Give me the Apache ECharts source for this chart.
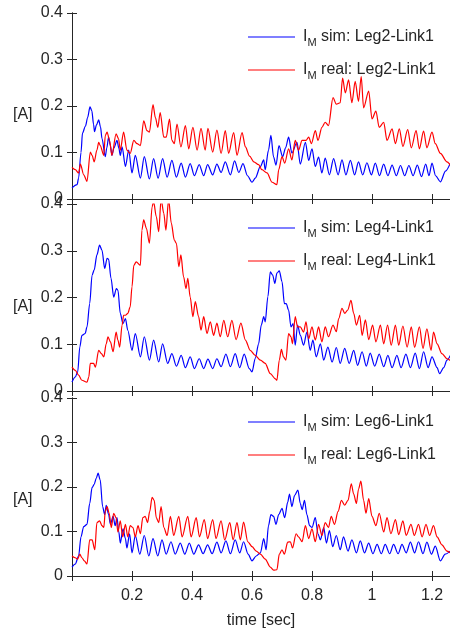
<!DOCTYPE html>
<html><head><meta charset="utf-8">
<script src="https://cdn.jsdelivr.net/npm/echarts@6/dist/echarts.min.js"></script>
<style>html,body{margin:0;padding:0;background:#fff}#c{width:450px;height:630px}</style>
</head><body><div id="c"></div>
<script>
// ---- data: [time (sec), current (A)] ----
const legNames = ['Leg2-Link1', 'Leg4-Link1', 'Leg6-Link1'];
const yTickLabels = ['0', '0.1', '0.2', '0.3', '0.4'];
const xTickLabels = ['0.2', '0.4', '0.6', '0.8', '1', '1.2'];

const leg2Sim = [[0,0.024],[0.017,0.031],[0.022,0.045],[0.03,0.1],[0.035,0.142],[0.045,0.157],[0.052,0.175],[0.06,0.198],[0.066,0.19],[0.072,0.16],[0.075,0.145],[0.082,0.16],[0.089,0.17],[0.095,0.155],[0.1,0.13],[0.111,0.091],[0.116,0.11],[0.122,0.133],[0.128,0.115],[0.133,0.094],[0.14,0.11],[0.15,0.126],[0.156,0.11],[0.161,0.094],[0.167,0.112],[0.178,0.07],[0.189,0.105],[0.2,0.056],[0.211,0.094],[0.228,0.045],[0.241,0.091],[0.258,0.043],[0.272,0.087],[0.287,0.045],[0.302,0.087],[0.317,0.047],[0.333,0.083],[0.348,0.047],[0.364,0.077],[0.378,0.047],[0.394,0.076],[0.408,0.05],[0.424,0.074],[0.439,0.05],[0.452,0.074],[0.469,0.052],[0.483,0.075],[0.497,0.057],[0.511,0.08],[0.528,0.052],[0.542,0.082],[0.556,0.057],[0.57,0.076],[0.585,0.05],[0.6,0.036],[0.611,0.045],[0.628,0.07],[0.639,0.084],[0.644,0.063],[0.655,0.105],[0.663,0.137],[0.672,0.09],[0.68,0.073],[0.69,0.115],[0.702,0.091],[0.712,0.11],[0.722,0.133],[0.733,0.099],[0.75,0.122],[0.761,0.075],[0.778,0.122],[0.789,0.083],[0.8,0.108],[0.811,0.07],[0.822,0.09],[0.833,0.056],[0.844,0.088],[0.858,0.052],[0.872,0.087],[0.887,0.052],[0.9,0.084],[0.913,0.052],[0.928,0.083],[0.942,0.052],[0.955,0.08],[0.969,0.052],[0.983,0.078],[0.998,0.052],[1.011,0.077],[1.025,0.05],[1.039,0.075],[1.053,0.05],[1.067,0.073],[1.081,0.05],[1.095,0.072],[1.109,0.05],[1.123,0.072],[1.137,0.05],[1.151,0.073],[1.165,0.048],[1.179,0.075],[1.19,0.05],[1.2,0.077],[1.212,0.05],[1.228,0.037],[1.245,0.06],[1.261,0.077]];

const leg2Real = [[0,0.068],[0.011,0.063],[0.022,0.056],[0.028,0.075],[0.039,0.052],[0.05,0.038],[0.061,0.101],[0.067,0.094],[0.074,0.08],[0.083,0.105],[0.089,0.122],[0.094,0.115],[0.106,0.094],[0.111,0.137],[0.117,0.144],[0.125,0.126],[0.133,0.094],[0.147,0.14],[0.155,0.13],[0.161,0.105],[0.172,0.144],[0.183,0.105],[0.194,0.098],[0.206,0.126],[0.217,0.119],[0.228,0.115],[0.239,0.168],[0.25,0.147],[0.258,0.144],[0.27,0.203],[0.278,0.175],[0.286,0.154],[0.294,0.186],[0.306,0.133],[0.314,0.133],[0.325,0.172],[0.333,0.126],[0.341,0.119],[0.35,0.161],[0.363,0.112],[0.378,0.158],[0.389,0.108],[0.403,0.154],[0.417,0.105],[0.43,0.152],[0.444,0.105],[0.453,0.152],[0.469,0.101],[0.483,0.148],[0.497,0.098],[0.511,0.147],[0.522,0.098],[0.539,0.143],[0.55,0.094],[0.567,0.143],[0.578,0.112],[0.592,0.092],[0.606,0.08],[0.622,0.074],[0.633,0.063],[0.65,0.056],[0.667,0.036],[0.683,0.031],[0.689,0.063],[0.7,0.091],[0.709,0.077],[0.722,0.108],[0.733,0.084],[0.744,0.126],[0.755,0.105],[0.767,0.126],[0.78,0.126],[0.789,0.133],[0.798,0.119],[0.811,0.147],[0.82,0.126],[0.833,0.154],[0.844,0.165],[0.855,0.158],[0.87,0.218],[0.881,0.204],[0.894,0.207],[0.902,0.26],[0.911,0.228],[0.922,0.256],[0.933,0.207],[0.944,0.253],[0.955,0.21],[0.964,0.263],[0.972,0.196],[0.989,0.232],[1.0,0.172],[1.013,0.189],[1.024,0.154],[1.039,0.165],[1.05,0.126],[1.067,0.151],[1.078,0.119],[1.091,0.151],[1.103,0.113],[1.119,0.149],[1.131,0.11],[1.147,0.147],[1.158,0.108],[1.172,0.146],[1.183,0.11],[1.2,0.144],[1.211,0.119],[1.228,0.098],[1.25,0.08],[1.261,0.073]];

const leg4Sim = [[0,0.019],[0.011,0.03],[0.019,0.041],[0.026,0.094],[0.033,0.119],[0.044,0.123],[0.05,0.137],[0.059,0.187],[0.067,0.248],[0.074,0.259],[0.083,0.291],[0.092,0.312],[0.1,0.301],[0.109,0.262],[0.117,0.284],[0.122,0.282],[0.13,0.241],[0.139,0.201],[0.148,0.219],[0.153,0.216],[0.161,0.166],[0.17,0.144],[0.178,0.155],[0.186,0.13],[0.2,0.087],[0.211,0.123],[0.228,0.073],[0.241,0.116],[0.258,0.066],[0.272,0.109],[0.289,0.062],[0.302,0.101],[0.319,0.059],[0.333,0.08],[0.348,0.053],[0.364,0.076],[0.378,0.05],[0.394,0.073],[0.408,0.048],[0.424,0.069],[0.439,0.048],[0.453,0.068],[0.469,0.048],[0.483,0.069],[0.497,0.052],[0.513,0.079],[0.528,0.052],[0.544,0.08],[0.559,0.05],[0.574,0.079],[0.591,0.048],[0.6,0.041],[0.611,0.07],[0.622,0.101],[0.631,0.141],[0.639,0.159],[0.644,0.148],[0.653,0.202],[0.661,0.255],[0.669,0.248],[0.676,0.23],[0.683,0.252],[0.691,0.257],[0.7,0.234],[0.708,0.187],[0.714,0.187],[0.722,0.173],[0.73,0.137],[0.737,0.144],[0.744,0.098],[0.752,0.141],[0.761,0.119],[0.772,0.098],[0.783,0.126],[0.794,0.087],[0.803,0.109],[0.814,0.073],[0.828,0.101],[0.839,0.066],[0.853,0.094],[0.867,0.062],[0.881,0.093],[0.894,0.059],[0.909,0.091],[0.924,0.059],[0.939,0.087],[0.952,0.055],[0.967,0.084],[0.981,0.053],[0.994,0.081],[1.009,0.053],[1.024,0.079],[1.039,0.052],[1.053,0.076],[1.067,0.05],[1.083,0.076],[1.097,0.05],[1.113,0.079],[1.128,0.05],[1.144,0.081],[1.158,0.048],[1.172,0.084],[1.187,0.05],[1.2,0.073],[1.217,0.05],[1.225,0.037],[1.239,0.05],[1.25,0.066],[1.261,0.076]];

const leg4Real = [[0,0.051],[0.011,0.044],[0.022,0.034],[0.033,0.023],[0.05,0.019],[0.056,0.03],[0.061,0.059],[0.072,0.059],[0.078,0.051],[0.089,0.087],[0.098,0.08],[0.106,0.073],[0.114,0.101],[0.12,0.116],[0.128,0.105],[0.137,0.084],[0.147,0.126],[0.153,0.109],[0.159,0.094],[0.167,0.141],[0.172,0.162],[0.178,0.162],[0.186,0.166],[0.194,0.18],[0.2,0.223],[0.206,0.269],[0.214,0.276],[0.228,0.269],[0.233,0.344],[0.239,0.366],[0.248,0.348],[0.258,0.316],[0.267,0.394],[0.272,0.405],[0.281,0.373],[0.289,0.341],[0.297,0.41],[0.306,0.38],[0.313,0.344],[0.322,0.41],[0.331,0.359],[0.341,0.323],[0.348,0.316],[0.356,0.266],[0.363,0.291],[0.372,0.244],[0.38,0.219],[0.386,0.241],[0.394,0.201],[0.403,0.159],[0.411,0.191],[0.422,0.159],[0.43,0.13],[0.439,0.159],[0.45,0.123],[0.461,0.148],[0.472,0.119],[0.483,0.145],[0.494,0.116],[0.506,0.151],[0.519,0.116],[0.533,0.151],[0.547,0.11],[0.563,0.145],[0.578,0.109],[0.594,0.087],[0.611,0.076],[0.628,0.066],[0.644,0.059],[0.661,0.037],[0.678,0.026],[0.683,0.023],[0.691,0.066],[0.698,0.089],[0.705,0.073],[0.713,0.066],[0.722,0.123],[0.73,0.116],[0.735,0.101],[0.744,0.159],[0.752,0.137],[0.761,0.137],[0.772,0.126],[0.78,0.148],[0.789,0.112],[0.8,0.137],[0.811,0.109],[0.822,0.137],[0.833,0.105],[0.844,0.137],[0.855,0.116],[0.87,0.141],[0.881,0.127],[0.889,0.155],[0.9,0.177],[0.909,0.166],[0.919,0.173],[0.93,0.194],[0.939,0.166],[0.948,0.141],[0.959,0.162],[0.967,0.119],[0.978,0.152],[0.989,0.11],[1.002,0.141],[1.013,0.105],[1.028,0.141],[1.039,0.101],[1.052,0.141],[1.064,0.098],[1.078,0.141],[1.089,0.098],[1.103,0.139],[1.117,0.094],[1.131,0.137],[1.142,0.093],[1.158,0.137],[1.17,0.091],[1.183,0.133],[1.197,0.087],[1.205,0.126],[1.217,0.101],[1.233,0.08],[1.25,0.069],[1.261,0.065]];

const leg6Sim = [[0,0.02],[0.011,0.027],[0.022,0.045],[0.03,0.088],[0.039,0.111],[0.05,0.116],[0.059,0.163],[0.067,0.199],[0.074,0.206],[0.081,0.22],[0.087,0.231],[0.094,0.216],[0.102,0.156],[0.109,0.138],[0.114,0.159],[0.122,0.138],[0.128,0.116],[0.137,0.134],[0.144,0.113],[0.15,0.131],[0.156,0.099],[0.161,0.074],[0.17,0.106],[0.178,0.084],[0.183,0.063],[0.192,0.095],[0.2,0.052],[0.211,0.091],[0.226,0.049],[0.241,0.091],[0.256,0.045],[0.27,0.084],[0.286,0.045],[0.3,0.081],[0.314,0.049],[0.33,0.077],[0.344,0.049],[0.361,0.074],[0.376,0.049],[0.391,0.074],[0.406,0.049],[0.422,0.07],[0.437,0.05],[0.452,0.07],[0.467,0.05],[0.483,0.076],[0.497,0.052],[0.513,0.079],[0.528,0.05],[0.544,0.081],[0.559,0.052],[0.572,0.077],[0.587,0.049],[0.6,0.034],[0.614,0.045],[0.628,0.052],[0.639,0.084],[0.647,0.059],[0.655,0.113],[0.663,0.138],[0.672,0.134],[0.68,0.116],[0.689,0.138],[0.7,0.152],[0.709,0.131],[0.719,0.166],[0.725,0.184],[0.733,0.156],[0.742,0.181],[0.753,0.193],[0.761,0.163],[0.767,0.149],[0.775,0.17],[0.783,0.138],[0.792,0.113],[0.8,0.109],[0.811,0.131],[0.82,0.095],[0.828,0.081],[0.839,0.109],[0.848,0.074],[0.858,0.102],[0.869,0.066],[0.881,0.091],[0.894,0.059],[0.905,0.088],[0.92,0.056],[0.933,0.081],[0.948,0.052],[0.961,0.079],[0.975,0.052],[0.989,0.074],[1.003,0.05],[1.017,0.071],[1.031,0.05],[1.044,0.071],[1.059,0.05],[1.072,0.071],[1.087,0.05],[1.1,0.071],[1.114,0.052],[1.128,0.076],[1.142,0.052],[1.155,0.077],[1.17,0.05],[1.183,0.076],[1.198,0.049],[1.211,0.067],[1.228,0.034],[1.244,0.049],[1.261,0.056]];

const leg6Real = [[0,0.045],[0.011,0.041],[0.019,0.038],[0.026,0.049],[0.033,0.041],[0.041,0.034],[0.05,0.027],[0.059,0.081],[0.067,0.081],[0.076,0.059],[0.083,0.12],[0.092,0.124],[0.1,0.113],[0.106,0.109],[0.111,0.145],[0.117,0.156],[0.124,0.141],[0.131,0.109],[0.139,0.141],[0.147,0.131],[0.153,0.099],[0.161,0.124],[0.169,0.088],[0.178,0.116],[0.186,0.088],[0.194,0.113],[0.203,0.109],[0.211,0.088],[0.22,0.113],[0.228,0.095],[0.236,0.131],[0.244,0.134],[0.252,0.12],[0.259,0.145],[0.267,0.177],[0.274,0.17],[0.281,0.131],[0.289,0.12],[0.297,0.156],[0.306,0.109],[0.317,0.091],[0.328,0.134],[0.339,0.091],[0.356,0.134],[0.367,0.088],[0.386,0.134],[0.397,0.088],[0.414,0.131],[0.425,0.088],[0.441,0.127],[0.452,0.084],[0.469,0.127],[0.48,0.084],[0.497,0.124],[0.509,0.081],[0.526,0.12],[0.537,0.081],[0.55,0.12],[0.561,0.081],[0.572,0.121],[0.586,0.077],[0.6,0.066],[0.614,0.056],[0.628,0.049],[0.644,0.038],[0.661,0.02],[0.672,0.013],[0.683,0.014],[0.691,0.049],[0.7,0.059],[0.708,0.049],[0.719,0.076],[0.728,0.077],[0.735,0.063],[0.747,0.095],[0.755,0.088],[0.767,0.077],[0.778,0.113],[0.789,0.084],[0.8,0.106],[0.811,0.077],[0.822,0.116],[0.833,0.091],[0.844,0.12],[0.855,0.109],[0.864,0.134],[0.875,0.116],[0.887,0.145],[0.898,0.17],[0.909,0.159],[0.92,0.17],[0.931,0.207],[0.939,0.184],[0.948,0.163],[0.955,0.195],[0.963,0.213],[0.972,0.17],[0.98,0.141],[0.989,0.174],[1.0,0.134],[1.013,0.113],[1.024,0.141],[1.039,0.099],[1.05,0.131],[1.063,0.095],[1.078,0.127],[1.089,0.093],[1.103,0.124],[1.114,0.091],[1.13,0.116],[1.141,0.091],[1.155,0.116],[1.167,0.088],[1.18,0.116],[1.192,0.091],[1.205,0.113],[1.217,0.088],[1.233,0.07],[1.25,0.056],[1.261,0.052]];

const simSets = [leg2Sim, leg4Sim, leg6Sim];
const realSets = [leg2Real, leg4Real, leg6Real];

// ---- layout / styling ----
const FONT = '"Liberation Sans", Arial, sans-serif';
const TXT = '#262626';
const grids = [
  {left: 72, top: 13, width: 378, height: 186},
  {left: 72, top: 204, width: 378, height: 187},
  {left: 72, top: 398, width: 378, height: 185}
];
const xAxes = [], yAxes = [], series = [], legends = [], graphics = [];
const axisLine = {show: true, lineStyle: {color: TXT, width: 1}};
const axisTick = {show: true, inside: true, length: 5, lineStyle: {color: TXT, width: 1}};

grids.forEach((g, i) => {
  const isBottom = i === grids.length - 1;
  xAxes.push({
    gridIndex: i, type: 'value', min: 0, max: 1.26, interval: 0.2, position: 'bottom',
    axisLine, axisTick, splitLine: {show: false},
    axisLabel: {
      show: isBottom, fontFamily: FONT, fontSize: 16, color: TXT, margin: 12,
      showMinLabel: false, showMaxLabel: false,
      formatter: v => { const s = String(+v.toFixed(1)); return xTickLabels.includes(s) ? s : ''; }
    },
    name: isBottom ? 'time [sec]' : '', nameLocation: 'middle', nameGap: 37,
    nameTextStyle: {fontFamily: FONT, fontSize: 16, color: TXT}
  });
  xAxes.push({
    gridIndex: i, type: 'value', min: 0, max: 1.26, interval: 0.2, position: 'top',
    axisLine, axisTick, splitLine: {show: false}, axisLabel: {show: false}
  });
  yAxes.push({
    gridIndex: i, type: 'value', min: 0, max: 0.4, interval: 0.1, position: 'left',
    axisLine, axisTick, splitLine: {show: false},
    axisLabel: {
      fontFamily: FONT, fontSize: 16, color: TXT, margin: 9,
      formatter: v => { const s = v === 0 ? '0' : v.toFixed(1); return yTickLabels.includes(s) ? s : ''; }
    }
  });
  yAxes.push({
    gridIndex: i, type: 'value', min: 0, max: 0.4, interval: 0.1, position: 'right',
    axisLine, axisTick, splitLine: {show: false}, axisLabel: {show: false}
  });

  const simName = 'I_M sim: ' + legNames[i];
  const realName = 'I_M real: ' + legNames[i];
  series.push({
    name: simName, type: 'line', xAxisIndex: 2 * i, yAxisIndex: 2 * i,
    data: simSets[i], symbol: 'none', showSymbol: false, animation: false,
    smooth: 0.3, smoothMonotone: 'x',
    lineStyle: {color: '#0000ff', width: 1.2}, itemStyle: {color: '#0000ff'}
  });
  series.push({
    name: realName, type: 'line', xAxisIndex: 2 * i, yAxisIndex: 2 * i,
    data: realSets[i], symbol: 'none', showSymbol: false, animation: false,
    smooth: 0.3, smoothMonotone: 'x',
    lineStyle: {color: '#ff0000', width: 1.2}, itemStyle: {color: '#ff0000'}
  });
  legends.push({
    data: [simName, realName], orient: 'vertical', left: 248, top: g.top + 13, padding: 0,
    icon: 'rect', itemWidth: 47, itemHeight: 1.2, itemGap: 11, selectedMode: false,
    formatter: n => '{a|I}{b|M}{a|' + n.slice(3) + '}',
    textStyle: {
      padding: [0, 0, 0, 3],
      rich: {
        a: {fontFamily: FONT, fontSize: 16, color: TXT, lineHeight: 20},
        b: {fontFamily: FONT, fontSize: 11, color: TXT, padding: [11, 0, 0, 0], lineHeight: 11}
      }
    }
  });
  graphics.push({
    type: 'text', left: 13, top: g.top + g.height / 2 + 1,
    style: {text: '[A]', font: '16px ' + FONT, fill: TXT}
  });
});

const chart = echarts.init(document.getElementById('c'), null, {renderer: 'canvas'});
chart.setOption({
  backgroundColor: '#ffffff',
  animation: false,
  grid: grids,
  xAxis: xAxes,
  yAxis: yAxes,
  legend: legends,
  series: series,
  graphic: graphics
});
</script>
</body></html>
